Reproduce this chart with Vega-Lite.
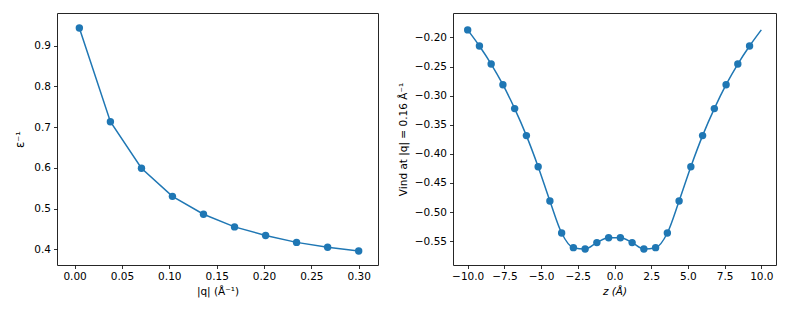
{
  "$schema": "https://vega.github.io/schema/vega-lite/v6.json",
  "padding": {"left": 14, "top": 12, "right": 5, "bottom": 5},
  "spacing": 18,
  "config": {
    "view": {"stroke": "#262626", "strokeWidth": 1},
    "axis": {"grid": false, "domain": false, "tickColor": "#000", "tickSize": 3.5, "tickWidth": 0.8,
      "labelFont": "DejaVu Sans", "labelFontSize": 10.5, "labelColor": "#000", "labelPadding": 3,
      "titleFont": "DejaVu Sans", "titleFontSize": 10.5, "titleFontWeight": "normal", "titleColor": "#000",
      "labelFlush": false, "labelOverlap": false}
  },
  "hconcat": [
    {
      "width": 321, "height": 252,
      "data": {"values": [
        {"q": 0.005, "eps": 0.943},
        {"q": 0.0378, "eps": 0.713},
        {"q": 0.0706, "eps": 0.599},
        {"q": 0.1033, "eps": 0.530},
        {"q": 0.1361, "eps": 0.486},
        {"q": 0.1689, "eps": 0.455},
        {"q": 0.2017, "eps": 0.434},
        {"q": 0.2344, "eps": 0.417},
        {"q": 0.2672, "eps": 0.405},
        {"q": 0.3, "eps": 0.396}
      ]},
      "encoding": {
        "x": {"field": "q", "type": "quantitative",
          "scale": {"domain": [-0.0186, 0.3204], "nice": false, "zero": false},
          "axis": {"values": [0, 0.05, 0.1, 0.15, 0.2, 0.25, 0.3], "format": ".2f", "title": "|q| (Å⁻¹)", "titlePadding": 4}},
        "y": {"field": "eps", "type": "quantitative",
          "scale": {"domain": [0.3615, 0.98], "nice": false, "zero": false},
          "axis": {"values": [0.4, 0.5, 0.6, 0.7, 0.8, 0.9], "format": ".1f", "title": "ε⁻¹", "titlePadding": 8, "titleFontSize": 11.5}}
      },
      "layer": [
        {"mark": {"type": "line", "color": "#1f77b4", "strokeWidth": 1.5}},
        {"mark": {"type": "point", "filled": true, "opacity": 1, "size": 55, "color": "#1f77b4"}}
      ]
    },
    {
      "width": 323, "height": 252,
      "data": {"values": [
        {"z": -10.0, "v": -0.187},
        {"z": -9.2, "v": -0.2147},
        {"z": -8.4, "v": -0.2457},
        {"z": -7.6, "v": -0.2812},
        {"z": -6.8, "v": -0.3223},
        {"z": -6.0, "v": -0.3687},
        {"z": -5.2, "v": -0.4221},
        {"z": -4.4, "v": -0.481},
        {"z": -3.6, "v": -0.536},
        {"z": -2.8, "v": -0.5612},
        {"z": -2.0, "v": -0.5635},
        {"z": -1.2, "v": -0.5525},
        {"z": -0.4, "v": -0.5442},
        {"z": 0.4, "v": -0.5442},
        {"z": 1.2, "v": -0.5525},
        {"z": 2.0, "v": -0.5635},
        {"z": 2.8, "v": -0.5612},
        {"z": 3.6, "v": -0.536},
        {"z": 4.4, "v": -0.481},
        {"z": 5.2, "v": -0.4221},
        {"z": 6.0, "v": -0.3687},
        {"z": 6.8, "v": -0.3223},
        {"z": 7.6, "v": -0.2812},
        {"z": 8.4, "v": -0.2457},
        {"z": 9.2, "v": -0.2147},
        {"z": 10.0, "v": -0.187}
      ]},
      "encoding": {
        "x": {"field": "z", "type": "quantitative",
          "scale": {"domain": [-11, 11], "nice": false, "zero": false},
          "axis": {"values": [-10, -7.5, -5, -2.5, 0, 2.5, 5, 7.5, 10], "format": ".1f", "title": "z (Å)", "titleFontStyle": "italic", "titlePadding": 4}},
        "y": {"field": "v", "type": "quantitative",
          "scale": {"domain": [-0.591, -0.158], "nice": false, "zero": false},
          "axis": {"values": [-0.55, -0.5, -0.45, -0.4, -0.35, -0.3, -0.25, -0.2], "format": ".2f", "title": "Vind at |q| = 0.16 Å⁻¹", "titlePadding": 6}}
      },
      "layer": [
        {"mark": {"type": "line", "color": "#1f77b4", "strokeWidth": 1.5, "interpolate": "monotone"}},
        {"transform": [{"filter": "datum.z < 9.9"}],
         "mark": {"type": "point", "filled": true, "opacity": 1, "size": 55, "color": "#1f77b4"}}
      ]
    }
  ]
}
